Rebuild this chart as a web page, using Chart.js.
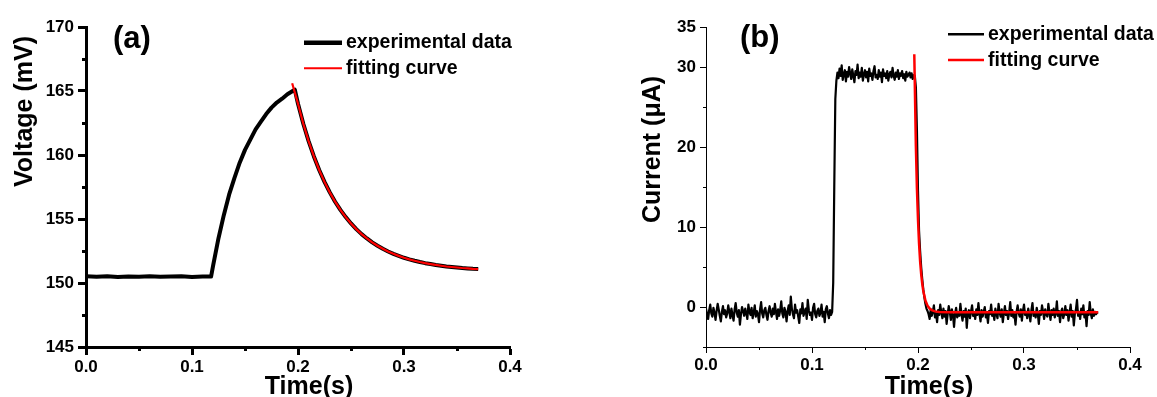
<!DOCTYPE html>
<html lang="en">
<head>
    <meta charset="UTF-8">
    <title>Voltage and current transients</title>
    <script src="https://cdn.jsdelivr.net/npm/chart.js"></script>
    <style>
        body {
            margin: 0;
            padding: 0;
            background-color: #fff;
            width: 1157px;
            height: 397px;
            overflow: hidden;
            position: relative;
        }

        .panel {
            position: absolute;
            top: 0;
            height: 397px;
        }

        #panelA { left: 0; width: 580px; }
        #panelB { left: 580px; width: 577px; }
    </style>
</head>
<body>
<div class="panel" id="panelA"><canvas id="voltageChart"></canvas></div>
<div class="panel" id="panelB"><canvas id="currentChart"></canvas></div>

<script>
// ---- panel (a): voltage ----
const voltTime = [
    0.000, 0.010, 0.020, 0.030, 0.040, 0.050, 0.060, 0.070, 0.080, 0.090, 0.100, 0.110, 0.118,
    0.120, 0.125, 0.130, 0.135, 0.140, 0.145, 0.150, 0.155, 0.160, 0.165, 0.170, 0.175, 0.180,
    0.185, 0.190, 0.195, 0.197,
    0.200, 0.205, 0.210, 0.215, 0.220, 0.225, 0.230, 0.235, 0.240, 0.245, 0.250, 0.255, 0.260,
    0.265, 0.270, 0.275, 0.280, 0.285, 0.290, 0.295, 0.300, 0.305, 0.310, 0.315, 0.320, 0.325,
    0.330, 0.335, 0.340, 0.345, 0.350, 0.355, 0.360, 0.365, 0.370
];
const voltValue = [
    150.52, 150.48, 150.53, 150.47, 150.51, 150.49, 150.52, 150.48, 150.50, 150.53, 150.47, 150.51, 150.50,
    151.4, 153.5, 155.3, 156.9, 158.2, 159.4, 160.4, 161.2, 162.0, 162.6, 163.2, 163.7, 164.1,
    164.4, 164.75, 165.0, 165.1,
    164.0, 162.44, 161.09, 159.89, 158.83, 157.90, 157.08, 156.35, 155.71, 155.15, 154.65, 154.21, 153.82,
    153.48, 153.17, 152.91, 152.67, 152.46, 152.28, 152.12, 151.97, 151.85, 151.74, 151.64, 151.55, 151.48,
    151.41, 151.35, 151.29, 151.25, 151.21, 151.17, 151.14, 151.11, 151.09
];
const voltFitTime = [
    0.1945, 0.200, 0.205, 0.210, 0.215, 0.220, 0.225, 0.230, 0.235, 0.240, 0.245, 0.250, 0.255,
    0.260, 0.265, 0.270, 0.275, 0.280, 0.285, 0.290, 0.295, 0.300, 0.305, 0.310, 0.315, 0.320,
    0.325, 0.330, 0.335, 0.340, 0.345, 0.350, 0.355, 0.360, 0.365, 0.370
];
const voltFitValue = [
    165.6, 164.0, 162.44, 161.09, 159.89, 158.83, 157.90, 157.08, 156.35, 155.71, 155.15, 154.65, 154.21,
    153.82, 153.48, 153.17, 152.91, 152.67, 152.46, 152.28, 152.12, 151.97, 151.85, 151.74, 151.64, 151.55,
    151.48, 151.41, 151.35, 151.29, 151.25, 151.21, 151.17, 151.14, 151.11, 151.09
];
const voltTicks = [145, 150, 155, 160, 165, 170];
const voltMinorTicks = [147.5, 152.5, 157.5, 162.5, 167.5];

// ---- panel (b): current (1 ms samples) ----
const curTime = [
    0.000, 0.001, 0.002, 0.003, 0.004, 0.005, 0.006, 0.007, 0.008, 0.009,
    0.010, 0.011, 0.012, 0.013, 0.014, 0.015, 0.016, 0.017, 0.018, 0.019,
    0.020, 0.021, 0.022, 0.023, 0.024, 0.025, 0.026, 0.027, 0.028, 0.029,
    0.030, 0.031, 0.032, 0.033, 0.034, 0.035, 0.036, 0.037, 0.038, 0.039,
    0.040, 0.041, 0.042, 0.043, 0.044, 0.045, 0.046, 0.047, 0.048, 0.049,
    0.050, 0.051, 0.052, 0.053, 0.054, 0.055, 0.056, 0.057, 0.058, 0.059,
    0.060, 0.061, 0.062, 0.063, 0.064, 0.065, 0.066, 0.067, 0.068, 0.069,
    0.070, 0.071, 0.072, 0.073, 0.074, 0.075, 0.076, 0.077, 0.078, 0.079,
    0.080, 0.081, 0.082, 0.083, 0.084, 0.085, 0.086, 0.087, 0.088, 0.089,
    0.090, 0.091, 0.092, 0.093, 0.094, 0.095, 0.096, 0.097, 0.098, 0.099,
    0.100, 0.101, 0.102, 0.103, 0.104, 0.105, 0.106, 0.107, 0.108, 0.109,
    0.110, 0.111, 0.112, 0.113, 0.114, 0.115, 0.116, 0.117, 0.118, 0.119,
    0.120, 0.121, 0.122, 0.123, 0.124, 0.125, 0.126, 0.127, 0.128, 0.129,
    0.130, 0.131, 0.132, 0.133, 0.134, 0.135, 0.136, 0.137, 0.138, 0.139,
    0.140, 0.141, 0.142, 0.143, 0.144, 0.145, 0.146, 0.147, 0.148, 0.149,
    0.150, 0.151, 0.152, 0.153, 0.154, 0.155, 0.156, 0.157, 0.158, 0.159,
    0.160, 0.161, 0.162, 0.163, 0.164, 0.165, 0.166, 0.167, 0.168, 0.169,
    0.170, 0.171, 0.172, 0.173, 0.174, 0.175, 0.176, 0.177, 0.178, 0.179,
    0.180, 0.181, 0.182, 0.183, 0.184, 0.185, 0.186, 0.187, 0.188, 0.189,
    0.190, 0.191, 0.192, 0.193, 0.194, 0.195, 0.196, 0.197, 0.198, 0.199,
    0.200, 0.201, 0.202, 0.203, 0.204, 0.205, 0.206, 0.207, 0.208, 0.209,
    0.210, 0.211, 0.212, 0.213, 0.214, 0.215, 0.216, 0.217, 0.218, 0.219,
    0.220, 0.221, 0.222, 0.223, 0.224, 0.225, 0.226, 0.227, 0.228, 0.229,
    0.230, 0.231, 0.232, 0.233, 0.234, 0.235, 0.236, 0.237, 0.238, 0.239,
    0.240, 0.241, 0.242, 0.243, 0.244, 0.245, 0.246, 0.247, 0.248, 0.249,
    0.250, 0.251, 0.252, 0.253, 0.254, 0.255, 0.256, 0.257, 0.258, 0.259,
    0.260, 0.261, 0.262, 0.263, 0.264, 0.265, 0.266, 0.267, 0.268, 0.269,
    0.270, 0.271, 0.272, 0.273, 0.274, 0.275, 0.276, 0.277, 0.278, 0.279,
    0.280, 0.281, 0.282, 0.283, 0.284, 0.285, 0.286, 0.287, 0.288, 0.289,
    0.290, 0.291, 0.292, 0.293, 0.294, 0.295, 0.296, 0.297, 0.298, 0.299,
    0.300, 0.301, 0.302, 0.303, 0.304, 0.305, 0.306, 0.307, 0.308, 0.309,
    0.310, 0.311, 0.312, 0.313, 0.314, 0.315, 0.316, 0.317, 0.318, 0.319,
    0.320, 0.321, 0.322, 0.323, 0.324, 0.325, 0.326, 0.327, 0.328, 0.329,
    0.330, 0.331, 0.332, 0.333, 0.334, 0.335, 0.336, 0.337, 0.338, 0.339,
    0.340, 0.341, 0.342, 0.343, 0.344, 0.345, 0.346, 0.347, 0.348, 0.349,
    0.350, 0.351, 0.352, 0.353, 0.354, 0.355, 0.356, 0.357, 0.358, 0.359,
    0.360, 0.361, 0.362, 0.363, 0.364, 0.365, 0.366, 0.367, 0.368, 0.369,
    0.370
];
const curValue = [
    // baseline before the pulse, 0.000 - 0.118
    -0.2, -0.9, -1.5, -0.4, 0.3, -0.8, -1.2, -0.1, -0.7, -1.6,
    -0.5, 0.4, -0.3, -1.1, -1.8, -0.6, 0.1, -0.9, -0.4, -1.3,
    -0.8, 0.2, -0.6, -1.4, -0.2, -1.0, -1.7, -0.3, 0.5, -0.7,
    -1.2, -0.4, -2.2, -0.9, 0.0, -0.5, -1.1, -0.2, -0.8, -1.5,
    0.3, -0.6, -1.0, -0.1, -1.4, -0.7, 0.2, -1.2, -0.5, -0.9,
    -1.9, -0.3, 0.6, -0.8, -1.3, -0.4, -0.1, -1.0, -1.6, -0.5,
    0.1, -0.7, -1.2, -0.2, -0.9, 0.4, -0.6, -1.5, -0.3, -1.1,
    -0.4, 0.7, -0.8, -1.3, -0.1, -0.6, -1.8, -0.5, 0.2, -1.0,
    1.3, -0.2, -0.9, -1.4, 0.3, -0.7, -0.4, -1.2, -2.0, -0.3,
    -0.8, 0.5, -1.1, -0.6, -0.2, -1.5, 0.9, -0.4, -1.0, -0.7,
    -1.6, -0.1, 0.4, -0.9, -1.3, -0.5, -0.2, -1.1, -0.7, 0.3,
    -1.2, -0.6, -1.9, -0.3, 0.1, -0.8, -1.4, -0.4, -1.0,
    // rise, 0.119 - 0.123
    -0.6, 3.0, 15.0, 26.0, 28.3,
    // plateau, 0.124 - 0.197
    29.3, 28.6, 29.8, 28.9, 30.2, 28.4, 29.1, 29.6, 28.2, 29.4,
    28.8, 30.0, 29.2, 28.5, 29.7, 28.9, 28.1, 29.5, 29.0, 30.3,
    28.6, 29.3, 28.8, 29.9, 28.3, 29.1, 29.6, 28.7, 29.4, 28.2,
    29.8, 28.9, 29.2, 28.4, 29.5, 30.1, 28.7, 29.0, 28.5, 29.6,
    28.8, 29.3, 28.1, 29.7, 28.9, 29.2, 28.6, 29.5, 28.3, 29.1,
    29.4, 28.7, 29.9, 28.9, 28.4, 29.3, 28.8, 29.6, 28.5, 29.2,
    28.9, 29.5, 28.6, 29.1, 28.3, 29.4, 28.8, 29.0, 29.3, 28.7,
    29.2, 28.5, 29.0, 28.9,
    // fall, 0.198 - 0.209
    27.5, 22.0, 14.5, 9.5, 7.0, 5.0, 3.5, 2.2, 1.2, 0.4, -0.2, -0.5,
    // baseline after the pulse, 0.210 - 0.370
    -0.9, -1.5, -0.3, -1.1, -0.6, 0.2, -1.3, -0.8, -1.9, -0.4,
    -1.0, 0.3, -0.7, -1.4, -0.2, -1.2, -0.5, -2.1, -0.9, 0.1,
    -0.6, -1.6, -0.3, -1.0, -2.5, -0.8, -0.1, -1.3, -0.7, -1.1,
    0.4, -0.9, -1.7, -0.5, -1.2, -0.2, -2.6, -0.8, -0.4, -1.4,
    -0.6, 0.2, -1.1, -0.7, -1.5, -0.3, -1.0, 0.5, -0.9, -1.8,
    -0.4, -1.2, -0.6, 0.0, -1.3, -0.8, -2.0, -0.5, -0.9, 0.3,
    -1.1, -0.6, -1.6, -0.2, -0.9, -1.4, 0.4, -0.7, -1.2, -0.3,
    -1.9, -0.8, 0.1, -1.0, -0.5, -1.5, -0.7, 0.6, -1.1, -0.4,
    -1.3, -0.9, -2.2, -0.6, 0.2, -0.8, -1.2, -0.3, -1.7, -0.5,
    0.3, -1.0, -0.6, -1.4, -0.2, -0.9, -1.8, -0.4, 0.5, -1.1,
    -0.7, -1.3, -0.1, -0.8, -2.1, -0.5, -1.0, 0.2, -0.6, -1.5,
    -0.3, -0.9, -1.2, 0.4, -0.7, -1.6, -0.4, -1.0, -0.2, -1.3,
    -0.8, 0.7, -1.1, -0.5, -1.9, -0.6, -0.2, -1.4, -0.9, 0.1,
    -1.0, -0.4, -1.7, -0.7, 0.3, -1.2, -0.5, -2.3, -0.8, -0.3,
    0.9, -1.1, -0.6, -1.5, -0.2, -0.9, 0.2, -1.3, -0.7, -2.4,
    -0.5, -1.0, 0.6, -0.8, -1.4, -0.3, -1.1, -0.6, -0.9, -0.7,
    -0.7
];
const curFitTime = [0.1965, 0.198, 0.199, 0.200, 0.201, 0.202, 0.203, 0.204, 0.205, 0.207, 0.209,
    0.211, 0.213, 0.216, 0.220, 0.230, 0.250, 0.300, 0.370];
const curFitValue = [31.6, 20.1, 14.8, 10.9, 7.9, 5.7, 4.1, 2.9, 2.0, 0.8, 0.17,
    -0.2, -0.4, -0.55, -0.62, -0.65, -0.65, -0.65, -0.65];
const curTicks = [0, 10, 20, 30, 35];
const curMinorTicks = [-5, 5, 15, 25];

// ---- shared x axis ----
const timeTicks = [0.0, 0.1, 0.2, 0.3, 0.4];
const timeMinorTicks = [0.05, 0.15, 0.25, 0.35];

const legendLabels = ['experimental data', 'fitting curve'];

Chart.defaults.font.family = '"Liberation Sans", Arial, sans-serif';
Chart.defaults.color = '#000';

function pairs(xs, ys) {
    return xs.map((x, i) => ({ x: x, y: ys[i] }));
}

// draws minor ticks, axis titles, the panel letter and the legend
const decorPlugin = {
    id: 'decor',
    afterDraw(chart, args, o) {
        const ctx = chart.ctx;
        const xs = chart.scales.x;
        const ys = chart.scales.y;
        ctx.save();
        ctx.strokeStyle = '#000';
        ctx.lineWidth = o.axisWidth;
        ctx.beginPath();
        o.minorX.forEach(v => {
            const px = Math.round(xs.getPixelForValue(v)) + 0.5;
            ctx.moveTo(px, xs.top);
            ctx.lineTo(px, xs.top + o.minorLen);
        });
        o.minorY.forEach(v => {
            const py = Math.round(ys.getPixelForValue(v)) + 0.5;
            ctx.moveTo(ys.right, py);
            ctx.lineTo(ys.right - o.minorLen, py);
        });
        ctx.stroke();

        ctx.fillStyle = '#000';
        ctx.textBaseline = 'alphabetic';
        ctx.font = 'bold 25px "Liberation Sans", Arial, sans-serif';
        ctx.textAlign = 'center';
        ctx.fillText(o.xTitle, o.xTitleAt[0], o.xTitleAt[1]);
        ctx.save();
        ctx.translate(o.yTitleAt[0], o.yTitleAt[1]);
        ctx.rotate(-Math.PI / 2);
        ctx.fillText(o.yTitle, 0, 0);
        ctx.restore();

        ctx.textAlign = 'left';
        ctx.font = 'bold 31px "Liberation Sans", Arial, sans-serif';
        ctx.fillText(o.panel, o.panelAt[0], o.panelAt[1]);

        ctx.font = 'bold 19.5px "Liberation Sans", Arial, sans-serif';
        chart.data.datasets.forEach((ds, i) => {
            const ly = o.legendY[i];
            ctx.strokeStyle = ds.borderColor;
            ctx.lineWidth = o.legendWidths[i];
            ctx.beginPath();
            ctx.moveTo(o.legendX, ly);
            ctx.lineTo(o.legendX + o.legendLen, ly);
            ctx.stroke();
            ctx.fillText(ds.label, o.legendX + o.legendLen + 4, ly + 5.7);
        });
        ctx.restore();
    }
};

function makeChart(canvasId, cfg) {
    const tickFont = { size: 17, weight: 'bold' };
    return new Chart(document.getElementById(canvasId), {
        type: 'line',
        data: {
            datasets: [
                {
                    label: legendLabels[0],
                    data: pairs(cfg.time, cfg.values),
                    borderColor: '#000000',
                    borderWidth: cfg.dataWidth,
                    borderJoinStyle: 'round',
                    pointRadius: 0,
                    tension: 0,
                    order: 1
                },
                {
                    label: legendLabels[1],
                    data: pairs(cfg.fitTime, cfg.fitValues),
                    borderColor: '#ff0000',
                    borderWidth: cfg.fitWidth,
                    pointRadius: 0,
                    tension: 0,
                    order: 0
                }
            ]
        },
        options: {
            responsive: true,
            maintainAspectRatio: false,
            animation: false,
            events: [],
            layout: { padding: { top: 27, right: cfg.padRight, left: 0, bottom: 0 } },
            plugins: {
                legend: { display: false },
                tooltip: { enabled: false },
                decor: cfg.decor
            },
            scales: {
                x: {
                    type: 'linear',
                    min: 0,
                    max: 0.4,
                    afterBuildTicks: s => { s.ticks = timeTicks.map(v => ({ value: v })); },
                    afterFit: s => { s.height = 50; },
                    ticks: {
                        font: tickFont,
                        color: '#000',
                        padding: 2,
                        maxRotation: 0,
                        callback: v => v.toFixed(1)
                    },
                    grid: {
                        drawOnChartArea: false,
                        drawTicks: true,
                        tickLength: cfg.tickLen,
                        tickWidth: cfg.axisWidth,
                        tickColor: '#000'
                    },
                    border: { display: true, color: '#000', width: cfg.axisWidth }
                },
                y: {
                    type: 'linear',
                    min: cfg.yMin,
                    max: cfg.yMax,
                    afterBuildTicks: s => { s.ticks = cfg.yTicks.map(v => ({ value: v })); },
                    afterFit: s => { s.width = cfg.yWidth; },
                    ticks: {
                        font: tickFont,
                        color: '#000',
                        padding: 4,
                        callback: v => String(v)
                    },
                    grid: {
                        drawOnChartArea: false,
                        drawTicks: true,
                        tickLength: cfg.tickLen,
                        tickWidth: cfg.axisWidth,
                        tickColor: '#000'
                    },
                    border: { display: true, color: '#000', width: cfg.axisWidth }
                }
            }
        },
        plugins: [decorPlugin]
    });
}

makeChart('voltageChart', {
    time: voltTime, values: voltValue, fitTime: voltFitTime, fitValues: voltFitValue,
    yMin: 145, yMax: 170, yTicks: voltTicks,
    dataWidth: 4, fitWidth: 2.2, axisWidth: 3, tickLen: 8,
    yWidth: 86, padRight: 70,
    decor: {
        axisWidth: 3, minorLen: 4,
        minorX: timeMinorTicks, minorY: voltMinorTicks,
        xTitle: 'Time(s)', xTitleAt: [309, 394],
        yTitle: 'Voltage (mV)', yTitleAt: [31.5, 111.5],
        panel: '(a)', panelAt: [113, 48],
        legendX: 304, legendLen: 38, legendY: [42.7, 68.3], legendWidths: [4.5, 2]
    }
});

makeChart('currentChart', {
    time: curTime, values: curValue, fitTime: curFitTime, fitValues: curFitValue,
    yMin: -5, yMax: 35, yTicks: curTicks,
    dataWidth: 2.2, fitWidth: 2.5, axisWidth: 1, tickLen: 6,
    yWidth: 126, padRight: 27,
    decor: {
        axisWidth: 1, minorLen: 3,
        minorX: timeMinorTicks, minorY: curMinorTicks,
        xTitle: 'Time(s)', xTitleAt: [349, 394],
        yTitle: 'Current (\u03bcA)', yTitleAt: [80, 149.5],
        panel: '(b)', panelAt: [160, 47],
        legendX: 368, legendLen: 36, legendY: [34.3, 60], legendWidths: [2.5, 2.5]
    }
});
</script>
</body>
</html>
